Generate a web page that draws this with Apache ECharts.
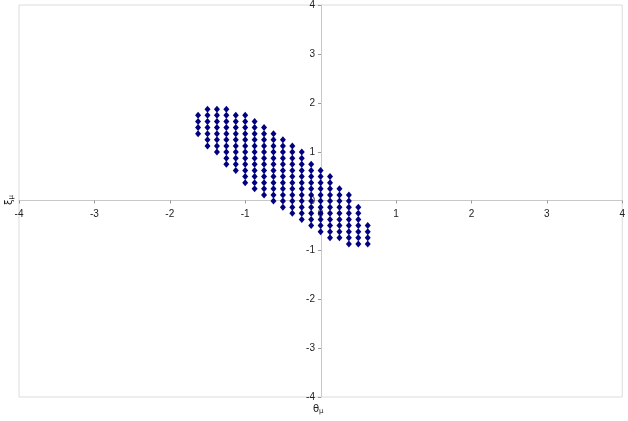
<!DOCTYPE html>
<html>
<head>
<meta charset="utf-8">
<title>scatter</title>
<script src="https://cdn.jsdelivr.net/npm/echarts@6/dist/echarts.min.js"></script>
<style>
    html, body { margin: 0; padding: 0; background: #fff; }
    #chart { width: 628px; height: 421px; }
</style>
</head>
<body>
<div id="chart"></div>
<script>
// x position of every column of points
const columnX = [-1.625, -1.5, -1.375, -1.25, -1.125, -1.0, -0.875, -0.75, -0.625, -0.5,
    -0.375, -0.25, -0.125, 0, 0.125, 0.25, 0.375, 0.5, 0.625]
// y values of the points in each column
const columnY = [
    [1.75, 1.625, 1.5, 1.375],
    [1.875, 1.75, 1.625, 1.5, 1.375, 1.25, 1.125],
    [1.875, 1.75, 1.625, 1.5, 1.375, 1.25, 1.125, 1.0],
    [1.875, 1.75, 1.625, 1.5, 1.375, 1.25, 1.125, 1.0, 0.875, 0.75],
    [1.75, 1.625, 1.5, 1.375, 1.25, 1.125, 1.0, 0.875, 0.75, 0.625],
    [1.75, 1.625, 1.5, 1.375, 1.25, 1.125, 1.0, 0.875, 0.75, 0.625, 0.5, 0.375],
    [1.625, 1.5, 1.375, 1.25, 1.125, 1.0, 0.875, 0.75, 0.625, 0.5, 0.375, 0.25],
    [1.5, 1.375, 1.25, 1.125, 1.0, 0.875, 0.75, 0.625, 0.5, 0.375, 0.25, 0.125],
    [1.375, 1.25, 1.125, 1.0, 0.875, 0.75, 0.625, 0.5, 0.375, 0.25, 0.125, 0],
    [1.25, 1.125, 1.0, 0.875, 0.75, 0.625, 0.5, 0.375, 0.25, 0.125, 0, -0.125],
    [1.125, 1.0, 0.875, 0.75, 0.625, 0.5, 0.375, 0.25, 0.125, 0, -0.125, -0.25],
    [1.0, 0.875, 0.75, 0.625, 0.5, 0.375, 0.25, 0.125, 0, -0.125, -0.25, -0.375],
    [0.75, 0.625, 0.5, 0.375, 0.25, 0.125, 0, -0.125, -0.25, -0.375, -0.5],
    [0.625, 0.5, 0.375, 0.25, 0.125, 0, -0.125, -0.25, -0.375, -0.5, -0.625],
    [0.5, 0.375, 0.25, 0.125, 0, -0.125, -0.25, -0.375, -0.5, -0.625, -0.75],
    [0.25, 0.125, 0, -0.125, -0.25, -0.375, -0.5, -0.625, -0.75],
    [0.125, 0, -0.125, -0.25, -0.375, -0.5, -0.625, -0.75, -0.875],
    [-0.125, -0.25, -0.375, -0.5, -0.625, -0.75, -0.875],
    [-0.5, -0.625, -0.75, -0.875]
]
const axisMin = -4
const axisMax = 4
const axisStep = 1

const points = []
columnX.forEach((x, i) => {
    columnY[i].forEach(y => points.push([x, y]))
})

const W = 628, H = 421
const gridLeft = 19, gridRight = 5, gridTop = 4, gridBottom = 24
// axes cross in the middle of the plot (at zero), labels move with them
const xAxisOffset = -((H - gridTop - gridBottom) / 2)
const yAxisOffset = -((W - gridLeft - gridRight) / 2)

const lineColor = '#c8c8c8'
const labelStyle = {
    color: '#222',
    fontSize: 10,
    fontFamily: 'Liberation Sans, Arial, sans-serif'
}

const chart = echarts.init(document.getElementById('chart'))
chart.setOption({
    animation: false,
    grid: {
        left: gridLeft,
        right: gridRight,
        top: gridTop,
        bottom: gridBottom,
        show: true,
        borderColor: '#dcdcdc',
        borderWidth: 1,
        containLabel: false
    },
    xAxis: {
        type: 'value',
        min: axisMin,
        max: axisMax,
        interval: axisStep,
        position: 'bottom',
        offset: xAxisOffset,
        axisLine: { onZero: false, lineStyle: { color: lineColor } },
        axisTick: { show: true, length: 3, lineStyle: { color: '#999' } },
        axisLabel: Object.assign({ margin: 9, showMinLabel: true, showMaxLabel: true }, labelStyle),
        splitLine: { show: false }
    },
    yAxis: {
        type: 'value',
        min: axisMin,
        max: axisMax,
        interval: axisStep,
        position: 'left',
        offset: yAxisOffset,
        axisLine: { onZero: false, lineStyle: { color: lineColor } },
        axisTick: { show: true, length: 3, lineStyle: { color: '#999' } },
        axisLabel: Object.assign({ margin: 6, showMinLabel: true, showMaxLabel: true }, labelStyle),
        splitLine: { show: false }
    },
    graphic: [
        {
            type: 'text',
            left: 313,
            top: 404,
            style: {
                text: '{a|θ}{b|μ}',
                rich: {
                    a: { fontSize: 10, fill: '#222', fontFamily: 'DejaVu Sans' },
                    b: { fontSize: 7, fill: '#222', fontFamily: 'DejaVu Sans', padding: [5, 0, 0, 0] }
                }
            }
        },
        {
            type: 'text',
            x: 3,
            y: 205,
            rotation: Math.PI / 2,
            style: {
                text: '{a|ξ}{b|μ}',
                rich: {
                    a: { fontSize: 10, fill: '#222', fontFamily: 'DejaVu Sans' },
                    b: { fontSize: 7, fill: '#222', fontFamily: 'DejaVu Sans', padding: [5, 0, 0, 0] }
                }
            }
        }
    ],
    series: [{
        type: 'scatter',
        data: points,
        symbol: 'diamond',
        symbolSize: [6, 7],
        itemStyle: { color: '#000080', opacity: 1 }
    }]
})
</script>
</body>
</html>
